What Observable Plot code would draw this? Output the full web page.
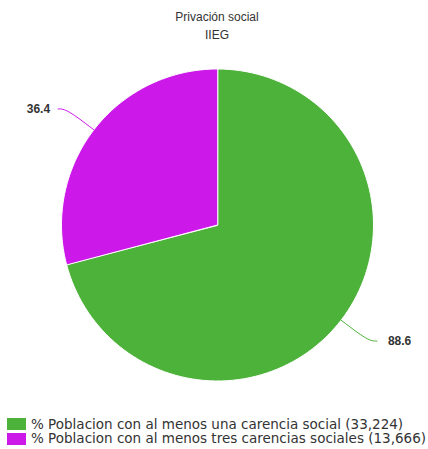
<!DOCTYPE html>
<html>
<head>
<meta charset="utf-8">
<script src="https://cdn.jsdelivr.net/npm/d3@7"></script>
<script src="https://cdn.jsdelivr.net/npm/@observablehq/plot@0.6"></script>
<style>
  html, body { margin: 0; padding: 0; background: #fff; }
  #wrap { position: relative; width: 428px; height: 449px; overflow: hidden; }
  #title { position: absolute; top: 8px; left: 6px; width: 422px; text-align: center;
           font: 12px "Liberation Sans", Arial, sans-serif; line-height: 18px; color: #333; }
  #chart { position: absolute; top: 46px; left: 0; }
  #legend { position: absolute; top: 416.5px; left: 7px; font: 13.5px "DejaVu Sans", sans-serif; color: #333; }
  .row { position: relative; height: 14.5px; line-height: 14.5px; white-space: nowrap; }
  .sw { position: absolute; left: 0; top: 1.5px; width: 19px; height: 12px; }
  .lt { position: absolute; left: 24px; top: 0; }
</style>
</head>
<body>
<div id="wrap">
  <div id="title"></div>
  <div id="chart"></div>
  <div id="legend"></div>
</div>
<script>
const titleText = "Privación social";
const subtitleText = "IIEG";
const categories = [
  "% Poblacion con al menos una carencia social",
  "% Poblacion con al menos tres carencias sociales"
];
const values = [88.6, 36.4];
const counts = ["33,224", "13,666"];
const colors = ["#4db239", "#cc19ea"];

document.getElementById("title").innerHTML = titleText + "<br>" + subtitleText;

const arcs = d3.pie().sort(null).value(d => d)(values);

// slice polygons in unit coordinates (y up)
const slices = arcs.map((a, i) => {
  const pts = [{x: 0, y: 0}];
  const n = 120;
  for (let k = 0; k <= n; k++) {
    const t = a.startAngle + (a.endAngle - a.startAngle) * k / n;
    pts.push({x: Math.sin(t), y: Math.cos(t)});
  }
  return pts;
});

const elbowR = 1.22, tail = 0.055;
const leaders = arcs.map((a) => {
  const m = (a.startAngle + a.endAngle) / 2;
  const sx = Math.sin(m), cy = Math.cos(m);
  const side = sx >= 0 ? 1 : -1;
  const ex = elbowR * sx, ey = elbowR * cy;
  return [
    {x: sx, y: cy},
    {x: ex, y: ey},
    {x: ex + side * tail, y: ey}
  ];
});
const labels = arcs.map((a, i) => {
  const end = leaders[i][2];
  const side = end.x >= 0 ? 1 : -1;
  return {x: end.x, y: end.y, text: String(values[i]), side};
});

const marks = [];
slices.forEach((pts, i) => {
  marks.push(Plot.line(pts, {x: "x", y: "y", fill: colors[i], stroke: "white", strokeWidth: 1, curve: "linear-closed"}));
});
leaders.forEach((pts, i) => {
  marks.push(Plot.line(pts, {x: "x", y: "y", stroke: colors[i], strokeWidth: 1, curve: "basis"}));
});
marks.push(Plot.text(labels.filter(d => d.side < 0), {x: "x", y: "y", text: "text", textAnchor: "end", dx: -8, fill: "#333", fontWeight: "bold", fontSize: 12}));
marks.push(Plot.text(labels.filter(d => d.side > 0), {x: "x", y: "y", text: "text", textAnchor: "start", dx: 11, fill: "#333", fontWeight: "bold", fontSize: 12}));

const chart = Plot.plot({
  width: 428,
  height: 360,
  marginLeft: 61,
  marginRight: 55,
  marginTop: 22.5,
  marginBottom: 25.5,
  x: {domain: [-1, 1], axis: null},
  y: {domain: [-1, 1], axis: null},
  style: {fontFamily: "'Liberation Sans', Arial, sans-serif", background: "transparent"},
  marks
});
document.getElementById("chart").appendChild(chart);

const legend = document.getElementById("legend");
categories.forEach((c, i) => {
  const row = document.createElement("div");
  row.className = "row";
  const sw = document.createElement("span");
  sw.className = "sw";
  sw.style.background = colors[i];
  const lt = document.createElement("span");
  lt.className = "lt";
  lt.textContent = c + " (" + counts[i] + ")";
  row.appendChild(sw);
  row.appendChild(lt);
  legend.appendChild(row);
});
</script>
</body>
</html>
